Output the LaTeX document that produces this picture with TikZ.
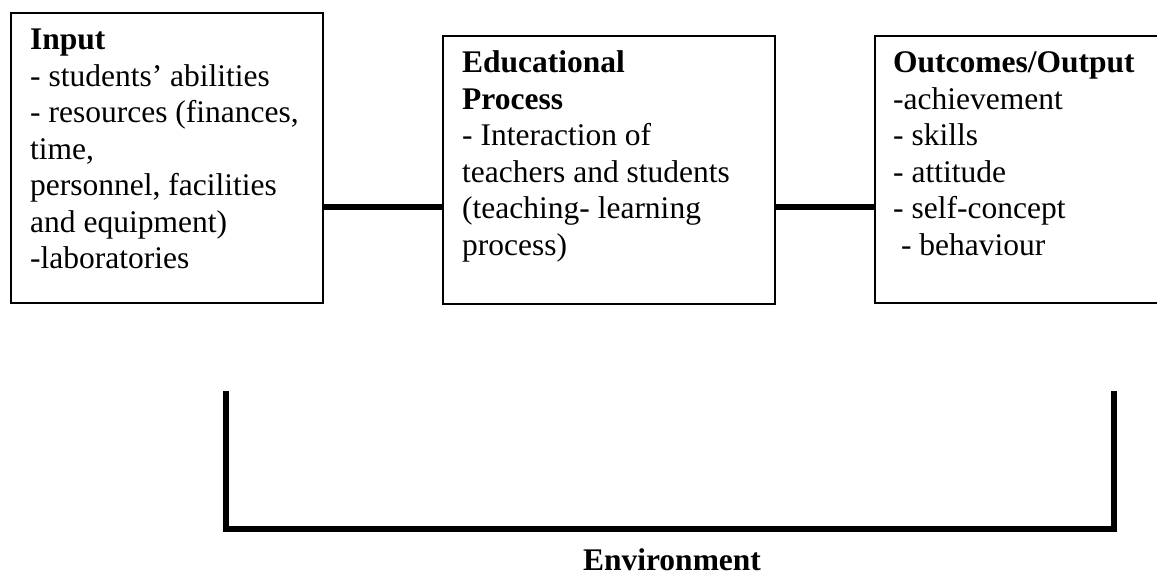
\documentclass[tikz,border=0pt]{standalone}
\usepackage{fontspec}
\setmainfont{Liberation Serif}
\begin{document}
\begin{tikzpicture}[x=1pt,y=-1pt,
  box/.style={draw, line width=2pt, rectangle, inner sep=0pt, anchor=north west},
  txt/.style={inner sep=0pt, anchor=base west, font=\fontsize{31.5}{36.5}\selectfont},
  link/.style={line width=6pt},
  bracket/.style={line width=6pt, line join=miter, line cap=rect}]
  \useasboundingbox (0,0) rectangle (1157,575);

  % the three stages
  \node[box, minimum width=312pt, minimum height=290pt] (input) at (10,12) {};
  \node[box, minimum width=332pt, minimum height=268pt] (process) at (442,35) {};
  \node[box, minimum width=291pt, minimum height=267pt] (output) at (874,35) {};

  % stage contents
  \node[txt] (inputtext) at (30,50) {\parbox[t]{300pt}{\raggedright
    \textbf{Input}\\
    - students’ abilities\\
    - resources (finances,\\
    time,\\
    personnel, facilities\\
    and equipment)\\
    -laboratories}};
  \node[txt] (processtext) at (462,73) {\parbox[t]{310pt}{\raggedright
    \textbf{Educational}\\
    \textbf{Process}\\
    - Interaction of\\
    teachers and students\\
    (teaching- learning\\
    process)}};
  \node[txt] (outputtext) at (893,73) {\parbox[t]{270pt}{\raggedright
    \textbf{Outcomes/Output}\\
    -achievement\\
    - skills\\
    - attitude\\
    - self-concept\\
    \hspace*{0.25em}- behaviour}};

  % links between the stages
  \coordinate (linkrow) at (0,207);
  \draw[link] (input.east |- linkrow) -- (process.west |- linkrow);
  \draw[link] (process.east |- linkrow) -- (output.west |- linkrow);

  % environment bracket
  \coordinate (envL) at (226,394);
  \coordinate (envR) at (1114,394);
  \coordinate (envbase) at (0,529);
  \draw[bracket] (envL) -- (envL |- envbase) -- (envR |- envbase) -- (envR);
  \node[txt, anchor=base] (envlabel) at (672,570) {\textbf{Environment}};
\end{tikzpicture}
\end{document}
